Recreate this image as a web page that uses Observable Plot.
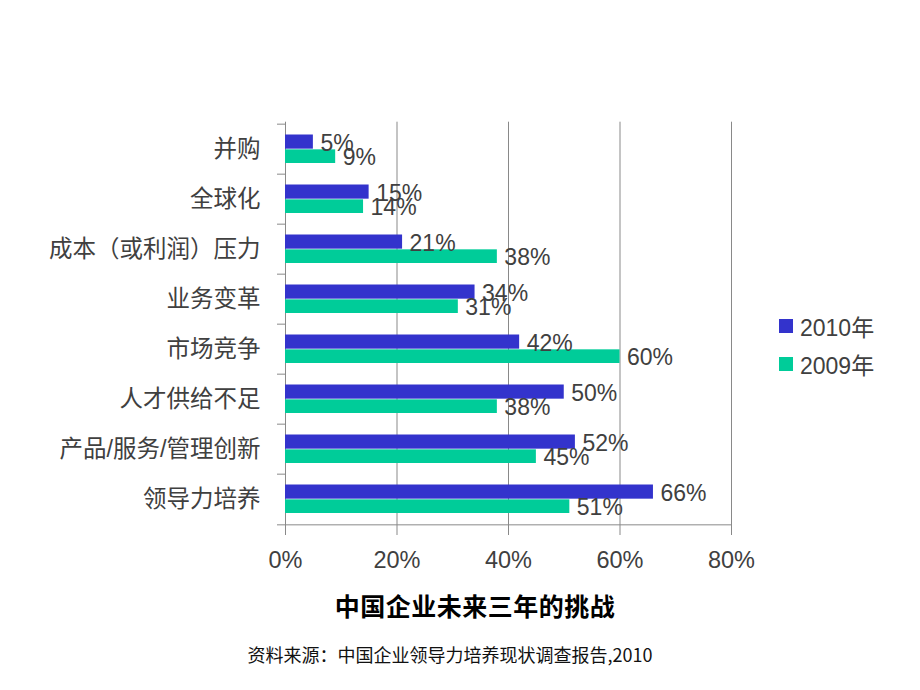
<!DOCTYPE html>
<html>
<head>
<meta charset="utf-8">
<script src="https://cdn.jsdelivr.net/npm/d3@7"></script>
<script src="https://cdn.jsdelivr.net/npm/@observablehq/plot@0.6"></script>
<style>
  body { margin: 0; background: white; }
  #wrap { position: relative; width: 920px; height: 690px; background: white; overflow: hidden; }
  #chart { position: absolute; left: 0; top: 0; }
  .legend { position: absolute; font-family: "Liberation Sans", "Noto Sans CJK SC", sans-serif; font-size: 23px; color: #404040; display: flex; align-items: center; height: 28px; }
  .legend .sw { width: 14px; height: 14px; margin-right: 7px; }
  #title { position: absolute; left: 275px; width: 400px; top: 590px; line-height: 30px; text-align: center; font-family: "Noto Sans CJK SC", sans-serif; font-weight: 700; font-size: 25px; color: #000; letter-spacing: 0.5px; }
  #caption { position: absolute; left: 200px; width: 500px; top: 642px; line-height: 24px; text-align: center; font-family: "Noto Sans CJK SC", "Liberation Sans", sans-serif; font-size: 18px; color: #111; }
</style>
</head>
<body>
<div id="wrap">
  <div id="chart"></div>
  <div class="legend" style="left:779px; top:312px;"><div class="sw" style="background:#3333CC"></div><span>2010年</span></div>
  <div class="legend" style="left:779px; top:350px;"><div class="sw" style="background:#00CC99"></div><span>2009年</span></div>
  <div id="title">中国企业未来三年的挑战</div>
  <div id="caption">资料来源：中国企业领导力培养现状调查报告,2010</div>
</div>
<script>
const categories = ["并购", "全球化", "成本（或利润）压力", "业务变革", "市场竞争", "人才供给不足", "产品/服务/管理创新", "领导力培养"];
const values2010 = [5, 15, 21, 34, 42, 50, 52, 66];
const values2009 = [9, 14, 38, 31, 60, 38, 45, 51];
const xTicks = [0, 20, 40, 60, 80];
const seriesNames = ["2010年", "2009年"];
const colors = {"2010年": "#3333CC", "2009年": "#00CC99"};

const W = 920, H = 580;
const mLeft = 285, mRight = 189, mTop = 121.7, mBottom = 53;
const frameW = W - mLeft - mRight;
const bw = (H - mTop - mBottom) / categories.length;
const grey = "#898989";

const rows2010 = categories.map((c, i) => ({cat: c, v: values2010[i]}));
const rows2009 = categories.map((c, i) => ({cat: c, v: values2009[i]}));

const chart = Plot.plot({
  width: W,
  height: H,
  marginLeft: mLeft,
  marginRight: mRight,
  marginTop: mTop,
  marginBottom: mBottom,
  style: {fontFamily: "'Liberation Sans', 'Noto Sans CJK SC', sans-serif", fontSize: "23.5px", color: "#404040", background: "white"},
  x: {domain: [0, 80], ticks: xTicks, tickFormat: d => d + "%", tickSize: 0, tickPadding: 24, label: null},
  y: {domain: categories, padding: 0, tickSize: 0, tickPadding: 25, label: null},
  marks: [
    Plot.ruleX(xTicks, {x: d => d, stroke: grey, strokeWidth: 1, insetBottom: -8}),
    Plot.ruleY(categories, {y: d => d, dy: -bw / 2, stroke: grey, insetLeft: -8, insetRight: frameW}),
    Plot.ruleY(categories.slice(-1), {y: d => d, dy: bw / 2, stroke: grey, insetLeft: -8}),
    Plot.barX(rows2010, {y: "cat", x: "v", fill: colors["2010年"], insetTop: 10.5, insetBottom: bw / 2}),
    Plot.barX(rows2009, {y: "cat", x: "v", fill: colors["2009年"], insetTop: bw / 2, insetBottom: 11}),
    Plot.text(rows2010, {y: "cat", x: "v", text: d => d.v + "%", textAnchor: "start", dx: 7, dy: -6, fill: "#404040", fontSize: 23}),
    Plot.text(rows2009, {y: "cat", x: "v", text: d => d.v + "%", textAnchor: "start", dx: 7, dy: 8.5, fill: "#404040", fontSize: 23})
  ]
});
document.getElementById("chart").appendChild(chart);
</script>
</body>
</html>
